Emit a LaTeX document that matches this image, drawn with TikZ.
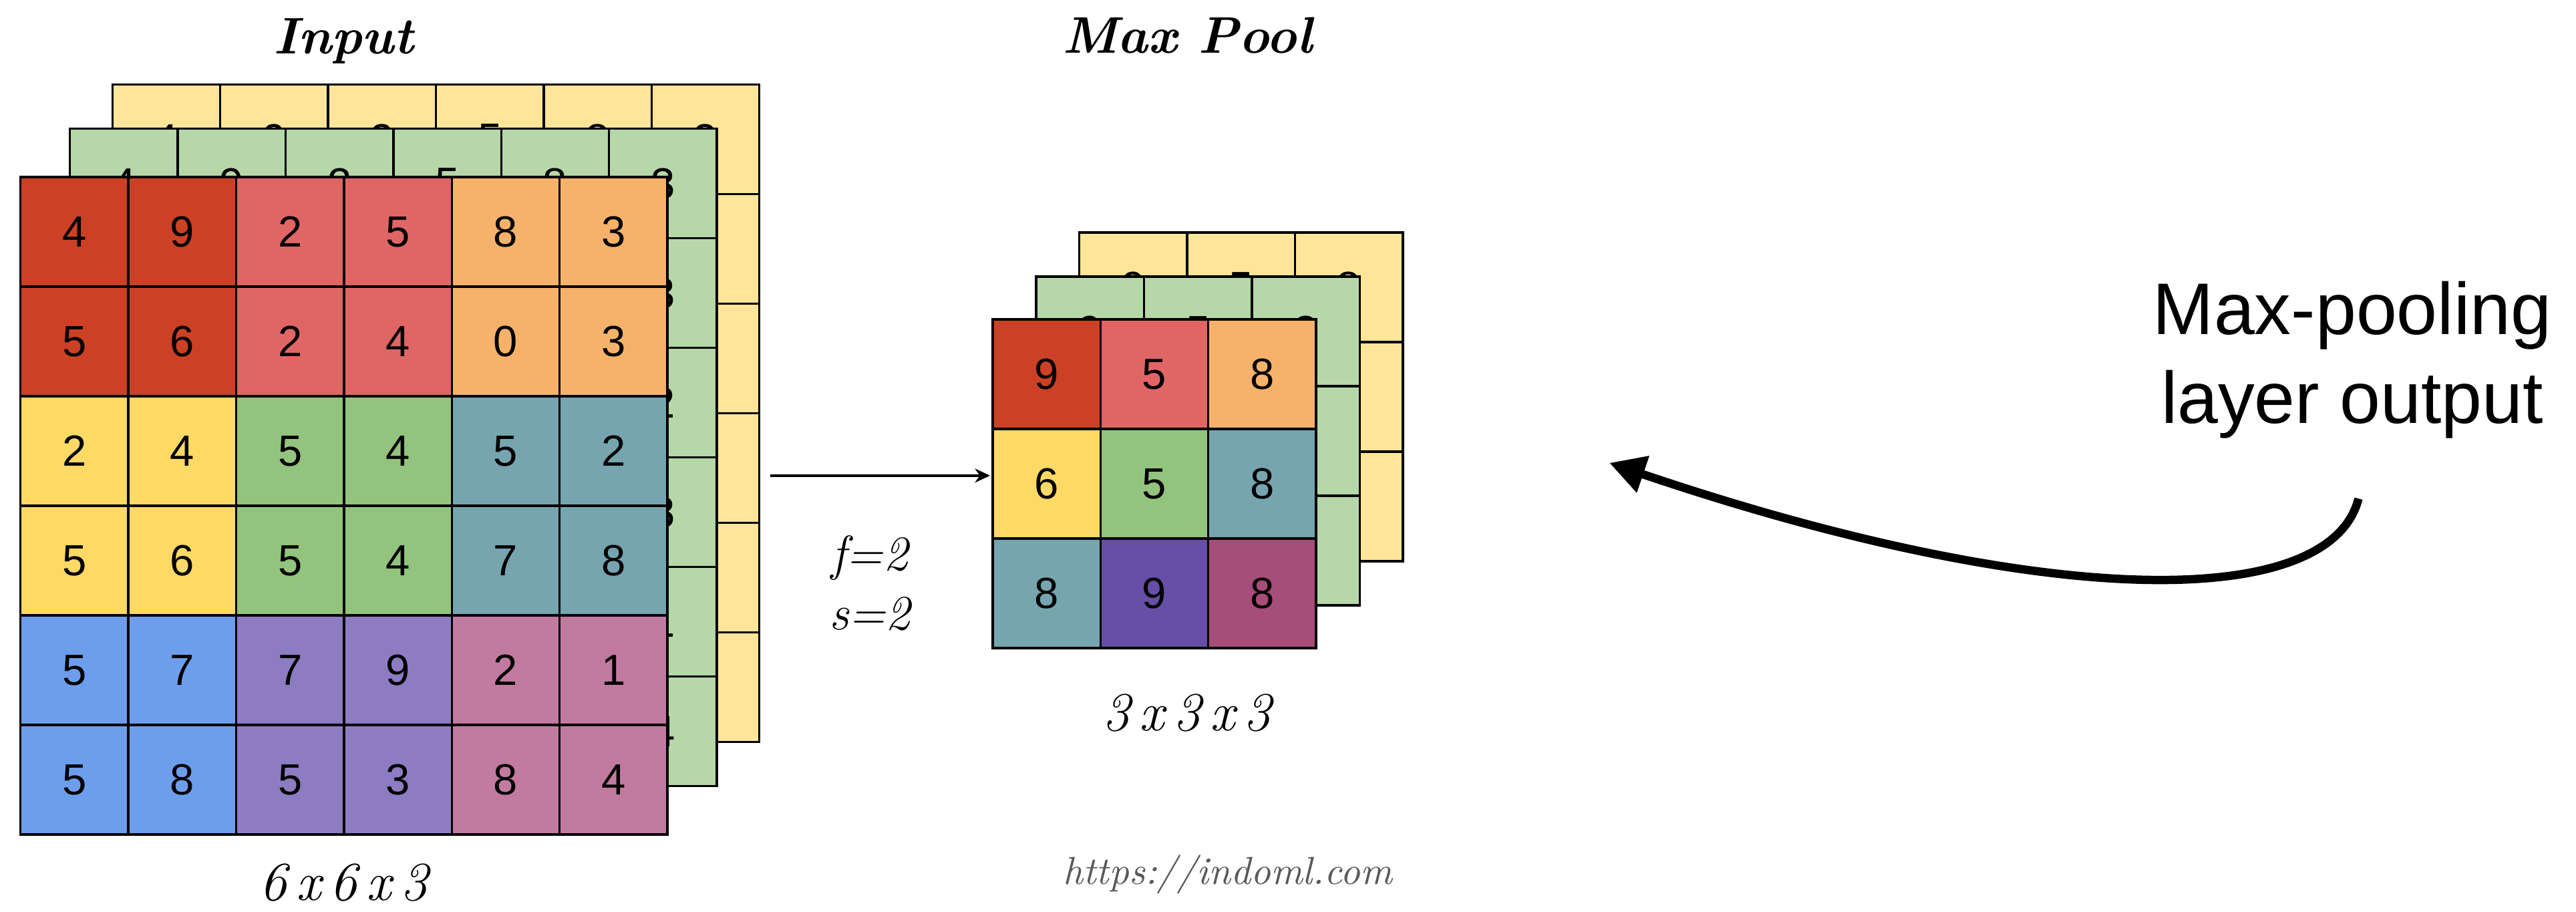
\documentclass[tikz,border=0pt]{standalone}
\usepackage{fontspec}
\setsansfont{Liberation Sans}
\usetikzlibrary{arrows.meta}

% sheet palette
\definecolor{berry}{HTML}{CC4125}
\definecolor{lred}{HTML}{E06666}
\definecolor{lorange}{HTML}{F6B26B}
\definecolor{lyellow}{HTML}{FFD966}
\definecolor{lgreen}{HTML}{93C47D}
\definecolor{lcyan}{HTML}{76A5AF}
\definecolor{lblue}{HTML}{6D9EEB}
\definecolor{lpurple}{HTML}{8E7CC3}
\definecolor{lmagenta}{HTML}{C27BA0}
\definecolor{dpurple}{HTML}{674EA7}
\definecolor{dmagenta}{HTML}{A64D79}
\definecolor{chgreen}{HTML}{B6D7A8}
\definecolor{chyellow}{HTML}{FFE599}

% colour of each 2x2 input block and of each pooled cell
\colorlet{in11}{berry}   \colorlet{in12}{lred}    \colorlet{in13}{lorange}
\colorlet{in21}{lyellow} \colorlet{in22}{lgreen}  \colorlet{in23}{lcyan}
\colorlet{in31}{lblue}   \colorlet{in32}{lpurple} \colorlet{in33}{lmagenta}
\colorlet{mp11}{berry}   \colorlet{mp12}{lred}    \colorlet{mp13}{lorange}
\colorlet{mp21}{lyellow} \colorlet{mp22}{lgreen}  \colorlet{mp23}{lcyan}
\colorlet{mp31}{lcyan}   \colorlet{mp32}{dpurple} \colorlet{mp33}{dmagenta}

\newcommand{\invals}{{4,9,2,5,8,3},{5,6,2,4,0,3},{2,4,5,4,5,2},{5,6,5,4,7,8},{5,7,7,9,2,1},{5,8,5,3,8,4}}
\newcommand{\mpvals}{{9,5,8},{6,5,8},{8,9,8}}

% one channel: #1 name, #2 top-left corner, #3 fill, #4 values,
% #5 test for the values that are printed (back channels only show their edges)
\newcommand{\channel}[5]{%
  \begin{scope}[shift={#2}]
    \foreach \row [count=\r] in #4 {
      \foreach \v [count=\c] in \row {
        \pgfmathtruncatemacro{\br}{(\r+1)/2}
        \pgfmathtruncatemacro{\bc}{(\c+1)/2}
        \pgfmathtruncatemacro{\shown}{#5}
        \node[cell,fill=#3] (#1-\r-\c) at (\c-0.5,0.5-\r) {\ifnum\shown=1 \v\fi};
      }
    }
  \end{scope}}

\begin{document}
\begin{tikzpicture}[x=1cm,y=1.016cm,
  cell/.style={draw,line width=0.6pt,minimum width=1cm,minimum height=1.016cm,inner sep=0pt,
    font=\sffamily\fontsize{11.5}{13}\selectfont},
  title/.style={font=\bfseries\itshape\fontsize{13.6}{16}\selectfont,anchor=base},
  dims/.style={font=\itshape\fontsize{14.5}{17}\selectfont,anchor=base},
  flow/.style={-{Stealth[length=1.4mm,width=1.3mm]},line width=0.6pt},
  callout/.style={-{Triangle[length=3.3mm,width=3.4mm]},line width=2.2pt}]
  \useasboundingbox (0,0) rectangle (23.891,-8.318);

  % input volume, back to front
  \channel{iny}{(1.043,-0.773)}{chyellow}{\invals}{\r==1}
  \channel{ing}{(0.649,-1.175)}{chgreen}{\invals}{or(\r==1,\c==6)}
  \channel{inf}{(0.190,-1.616)}{in\br\bc}{\invals}{1}

  % pooled volume
  \channel{mpy}{(10.010,-2.122)}{chyellow}{\mpvals}{\r==1}
  \channel{mpg}{(9.610,-2.524)}{chgreen}{\mpvals}{\r==1}
  \channel{mpf}{(9.206,-2.915)}{mp\r\c}{\mpvals}{1}

  \node[title] (intitle) at (3.188,-0.488) {Input};
  \node[title] (mptitle) at (11.010,-0.485) {Max Pool};
  \node[dims] (indims) at (3.188,-8.220) {6\,x\,6\,x\,3};
  \node[dims] (mpdims) at (11.010,-6.671) {3\,x\,3\,x\,3};
  \node[align=center,font=\itshape\fontsize{13}{15.7}\selectfont] (hyper) at (8.067,-5.323) {f=2\\s=2};

  \coordinate (inout) at (7.141,-4.341);
  \coordinate (mpin) at (9.182,-4.341);
  \draw[flow] (inout) -- (mpin);

  % callout
  \node[align=center,font=\sffamily\fontsize{19.3}{23.4}\selectfont] (note) at (21.816,-3.284)
    {Max-pooling\\layer output};
  \coordinate (tail) at (21.874,-4.551);
  \coordinate (head) at (14.926,-4.225);
  \draw[callout] (tail) .. controls (21.6,-5.6) and (18.9,-5.55) .. (head);

  \node[font=\itshape\fontsize{10.3}{12}\selectfont,text=black!65,anchor=base] (site)
    at (11.388,-8.073) {https://indoml.com};
\end{tikzpicture}
\end{document}
